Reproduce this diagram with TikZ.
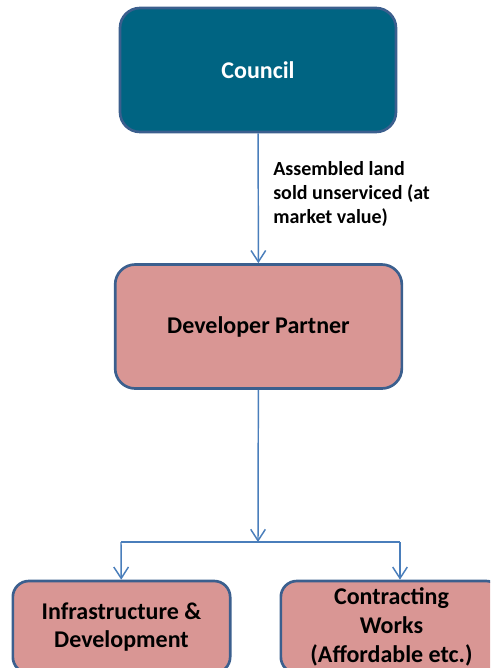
\documentclass[tikz,border=0pt]{standalone}
\usepackage{fontspec}
\setmainfont{Carlito}
\usepackage{tikz}
\usetikzlibrary{arrows.meta, positioning, calc}
\definecolor{councilteal}{HTML}{006482}
\definecolor{partnerpink}{HTML}{D99694}
\definecolor{boxedge}{HTML}{3B5F8E}
\definecolor{linkblue}{HTML}{4A7EBB}

\begin{document}
\begin{tikzpicture}[x=0.75pt, y=-0.75pt,
        box/.style={draw=boxedge, line width=2pt, rounded corners=15pt, align=center,
            font=\fontsize{18pt}{21.6pt}\selectfont\bfseries, inner sep=0pt},
        link/.style={draw=linkblue, line width=1.1pt},
        linkarrow/.style={link, -{Straight Barb[length=8.5pt, width=11pt, line width=1.1pt]}}]
        \useasboundingbox (0, 0) rectangle (490, 668);
        \clip (0, 0) rectangle (490, 668);

        % Boxes
        \node[box, fill=councilteal, text=white, minimum width=207pt, minimum height=93pt] (council) at (258, 70) {Council};
        \node[box, fill=partnerpink, minimum width=215pt, minimum height=93pt] (partner) at (258.5, 326.5) {Developer Partner};
        \node[box, fill=partnerpink, rounded corners=12pt, minimum width=163pt, minimum height=69pt] (infra) at (121.5, 627) {Infrastructure \&\\Development};
        \node[box, fill=partnerpink, rounded corners=12pt, minimum width=166pt, minimum height=69pt] (contract) at (391.5, 627) {Contracting\\Works\\(Affordable etc.)};

        % Sale of land
        \draw[linkarrow] (council) -- (partner);
        \node[anchor=north west, align=left, font=\fontsize{15pt}{18pt}\selectfont\bfseries, inner sep=0pt] (sale) at (273, 161) {Assembled land\\sold unserviced (at\\market value)};

        % Split below the partner
        \coordinate (split) at (258, 542);
        \coordinate (leftend) at (121, 542);
        \coordinate (rightend) at (400, 542);
        \draw[linkarrow] (partner) -- (split);
        \draw[link] (leftend) -- (rightend);
        \draw[linkarrow] (leftend) -- (infra);
        \draw[linkarrow] (rightend) -- (rightend |- contract.north);
    \end{tikzpicture}
\end{document}
